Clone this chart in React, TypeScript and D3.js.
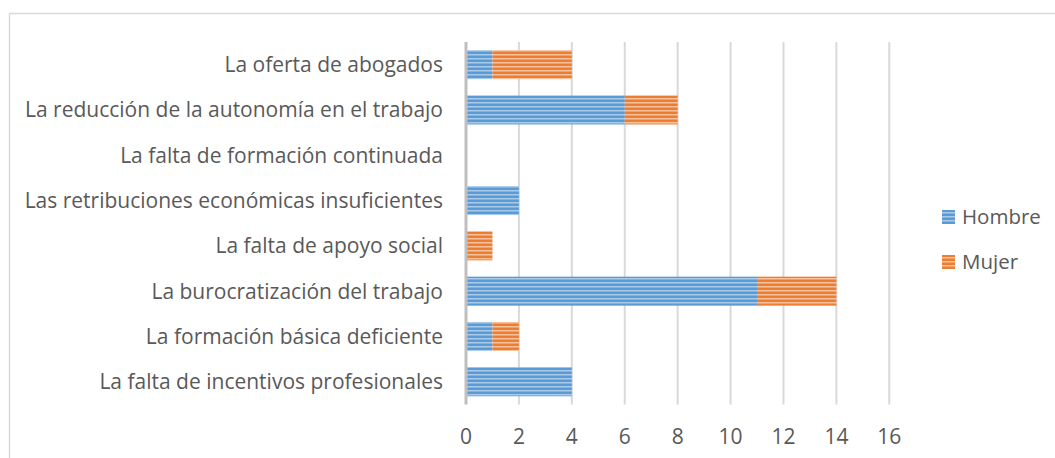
import React from 'react';
import * as d3 from 'd3';

// Chart data
const categories = [
  'La oferta de abogados',
  'La reducción de la autonomía en el trabajo',
  'La falta de formación continuada',
  'Las retribuciones económicas insuficientes',
  'La falta de apoyo social',
  'La burocratización del trabajo',
  'La formación básica deficiente',
  'La falta de incentivos profesionales',
];
const hombre = [1, 6, 0, 2, 0, 11, 1, 4];
const mujer = [3, 2, 0, 0, 1, 3, 1, 0];
const seriesNames = ['Hombre', 'Mujer'];
const xTicks = [0, 2, 4, 6, 8, 10, 12, 14, 16];

const width = 1055;
const height = 458;
const font = '"Open Sans", sans-serif';
const textColor = '#595959';

const colors = [
  { base: '#5B9BD5', light: '#A9CBEB' },
  { base: '#ED7D31', light: '#F7C29E' },
];

const App = () => {
  const x = d3.scaleLinear().domain([0, 16]).range([466, 889.3]);
  const y = d3.scaleBand().domain(categories).range([42, 404.4]).paddingInner(0.36).paddingOuter(0.18);

  const rows = categories.map((c, i) => ({ c, h: hombre[i], m: mujer[i] }));

  return (
    <div style={{ position: 'fixed', left: 0, top: 0 }}>
      <svg width={width} height={height} style={{ display: 'block', background: '#fff' }}>
        <defs>
          {colors.map((col, i) => (
            <pattern key={i} id={`stripe${i}`} width={4} height={4} patternUnits="userSpaceOnUse">
              <rect width={4} height={4} fill={col.base} />
              <rect y={2} width={4} height={1.5} fill={col.light} />
            </pattern>
          ))}
        </defs>

        {/* chart frame */}
        <line x1={9.5} x2={width} y1={13.5} y2={13.5} stroke="#d9d9d9" strokeWidth={1.5} />
        <line x1={9.5} x2={9.5} y1={13.5} y2={height} stroke="#d9d9d9" strokeWidth={1.5} />

        {/* gridlines */}
        {xTicks.slice(1).map((t) => (
          <line key={t} x1={x(t)} x2={x(t)} y1={42} y2={404.4} stroke="#d9d9d9" strokeWidth={2} />
        ))}

        {/* bars */}
        {rows.map((r) => (
          <g key={r.c}>
            {r.h > 0 && (
              <rect x={x(0)} y={y(r.c)} width={x(r.h) - x(0)} height={y.bandwidth()} fill="url(#stripe0)" />
            )}
            {r.m > 0 && (
              <rect x={x(r.h)} y={y(r.c)} width={x(r.h + r.m) - x(r.h)} height={y.bandwidth()} fill="url(#stripe1)" />
            )}
          </g>
        ))}

        {/* zero axis */}
        <line x1={x(0)} x2={x(0)} y1={42} y2={404.4} stroke="#bfbfbf" strokeWidth={3} />

        {/* category labels */}
        {categories.map((c) => (
          <text
            key={c}
            x={443}
            y={y(c)! + y.bandwidth() / 2}
            dy="0.35em"
            textAnchor="end"
            fontFamily={font}
            fontSize={21}
            fill={textColor}
          >
            {c}
          </text>
        ))}

        {/* x tick labels */}
        {xTicks.map((t) => (
          <text key={t} x={x(t)} y={444} textAnchor="middle" fontFamily={font} fontSize={21} fill={textColor}>
            {t}
          </text>
        ))}

        {/* legend */}
        {seriesNames.map((s, i) => (
          <g key={s} transform={`translate(942,${210 + i * 45})`}>
            <rect width={13} height={14} fill={`url(#stripe${i})`} />
            <text x={20} y={14} fontFamily={font} fontSize={20.5} fill={textColor}>
              {s}
            </text>
          </g>
        ))}
      </svg>
    </div>
  );
};

export default App;
